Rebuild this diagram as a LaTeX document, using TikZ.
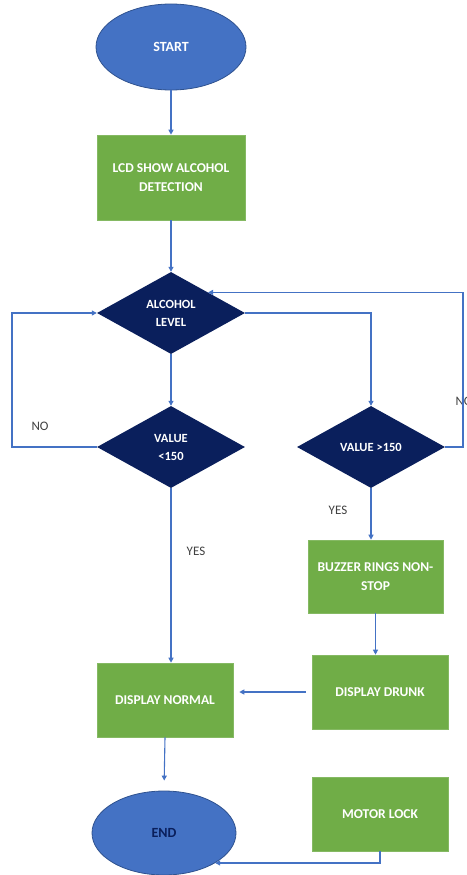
\documentclass[tikz,border=0pt]{standalone}
\usepackage{fontspec}
\setmainfont{Carlito}
\usetikzlibrary{shapes.geometric,arrows.meta}
\definecolor{lineblue}{HTML}{4472C4}
\definecolor{ovalblue}{HTML}{4472C4}
\definecolor{ovaledge}{HTML}{2F528F}
\definecolor{boxgreen}{HTML}{70AD47}
\definecolor{navy}{HTML}{0A1F5C}
\tikzset{
  oval/.style={ellipse, fill=ovalblue, draw=ovaledge, line width=0.8pt, minimum width=150pt, minimum height=86pt, inner sep=0pt, font=\fontsize{14}{16}\selectfont\bfseries},
  gbox/.style={rectangle, fill=boxgreen, draw=boxgreen!85!white, line width=0.6pt, inner sep=0pt, text=white, align=center, font=\fontsize{13.5}{19}\selectfont\bfseries},
  dec/.style={diamond, fill=navy, inner sep=0pt, minimum width=148pt, minimum height=82pt, text=white, align=center, font=\fontsize{12.5}{18}\selectfont\bfseries},
  conn/.style={draw=lineblue, line width=1.1pt, -{Triangle[length=5pt,width=5pt]}},
  lbl/.style={font=\fontsize{13}{14}\selectfont, text=black!75},
}
\begin{document}
\begin{tikzpicture}[x=1pt,y=-1pt]
\useasboundingbox (0,0) rectangle (466,875);
\node[oval, text=white] (start) at (171,47) {START};
\node[gbox, minimum width=148pt, minimum height=85pt] (lcd) at (171,177.5) {LCD SHOW ALCOHOL\\DETECTION};
\node[dec] (alc) at (171,313) {ALCOHOL\\LEVEL};
\node[dec] (v1) at (171,447) {VALUE\\<150};
\node[dec] (v2) at (371,447) {VALUE >150};
\node[gbox, minimum width=135pt, minimum height=73pt] (buzz) at (375.5,576.5) {BUZZER RINGS NON-\\STOP};
\node[gbox, minimum width=136pt, minimum height=74pt] (drunk) at (380,692) {DISPLAY DRUNK};
\node[gbox, minimum width=136pt, minimum height=74pt] (normal) at (165,700) {DISPLAY NORMAL};
\node[gbox, minimum width=136pt, minimum height=74pt] (motor) at (380,814) {MOTOR LOCK};
\node[oval, minimum width=144pt, minimum height=84pt, text=navy] (end) at (164,833) {END};

\node[lbl] (no1) at (40,426) {NO};
\node[lbl, anchor=west] (no2) at (452,401) {NO};
\node[lbl] (yes1) at (196,551) {YES};
\node[lbl] (yes2) at (338,510) {YES};

\draw[conn] (start) -- (lcd);
\draw[conn] (lcd) -- (alc);
\draw[conn] (alc) -- (v1);
\draw[conn] (v1.west) -- (12,447) |- (alc.west);
\draw[conn] (alc.east) -| (v2.north);
\draw[conn] (v2.east) -- (463,447) |- (alc.north east);
\draw[conn] (v2.south) -- (v2.south |- buzz.north);
\draw[conn] (buzz.south) -- (buzz.south |- drunk.north);
\draw[conn, shorten <=6pt, shorten >=6pt] (drunk.west) -- (drunk.west -| normal.east);
\draw[conn] (v1.south) -- (v1.south |- normal.north);
\draw[conn, shorten >=10pt] (normal.south) -- (end.north);
\draw[conn] (motor.south) |- (end.south east);
\end{tikzpicture}
\end{document}
